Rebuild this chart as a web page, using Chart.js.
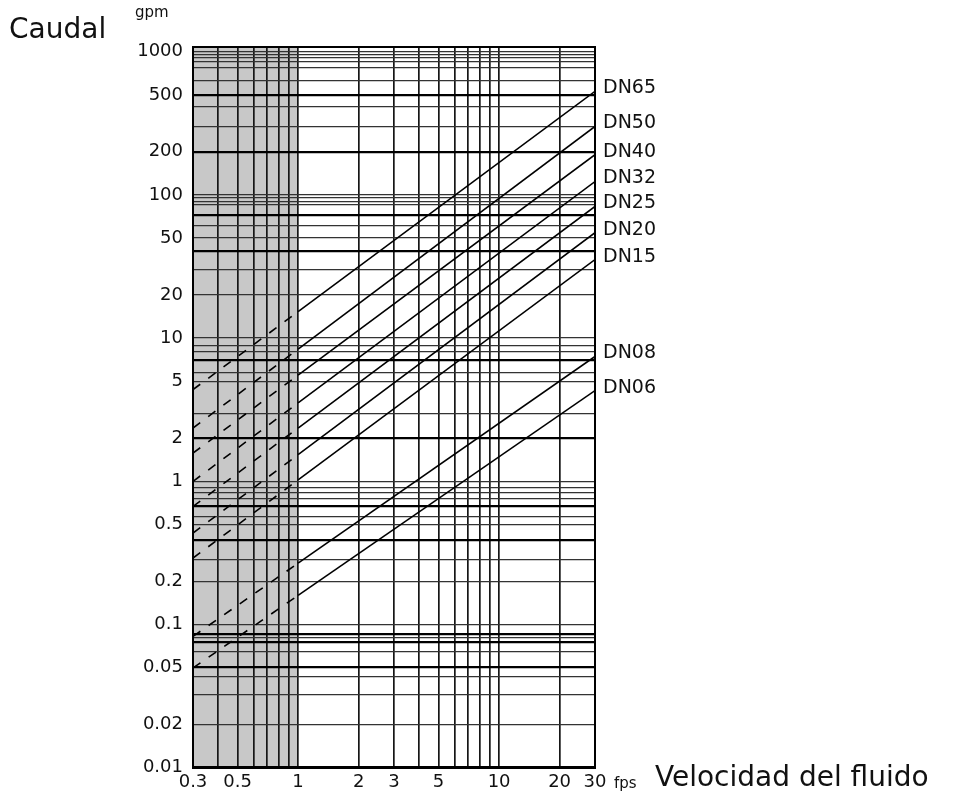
<!DOCTYPE html>
<html>
<head>
<meta charset="utf-8">
<script src="https://cdn.jsdelivr.net/npm/chart.js@4"></script>
<style>
    body { margin: 0; background: #fff; }
    canvas { display: block; }
</style>
</head>
<body>
<canvas id="flowChart" width="954" height="798"></canvas>
<script>
// Caudal vs velocidad del fluido, por diametro nominal

const pipeNames = ['DN65', 'DN50', 'DN40', 'DN32', 'DN25', 'DN20', 'DN15', 'DN08', 'DN06'];
const speedPoints = [0.3, 1, 30];           // fps
const flowAt03 = [4.36, 2.35, 1.57, 0.996, 0.666, 0.434, 0.29, 0.0823, 0.0495];   // gpm at 0.3 fps
const flowAt1 = [15.3, 8.36, 5.51, 3.52, 2.35, 1.53, 1.02, 0.267, 0.159];         // gpm at 1 fps
const flowAt30 = [529, 301, 191, 124, 83.1, 54.5, 35.3, 7.44, 4.29];              // gpm at 30 fps

const xGrid = [0.3, 0.4, 0.5, 0.6, 0.7, 0.8, 0.9, 1, 2, 3, 4, 5, 6, 7, 8, 9, 10, 20, 30];
const xLabels = [0.3, 0.5, 1, 2, 3, 5, 10, 20, 30];
const yLabels = [1000, 500, 200, 100, 50, 20, 10, 5, 2, 1, 0.5, 0.2, 0.1, 0.05, 0.02, 0.01];
const yExtraLines = [954, 905, 848, 770, 631, 411, 300, 95.6, 90.4, 85.4, 72.7, 60.9, 40.8, 30.3,
    8.84, 8.07, 7.06, 5.73, 2.96, 0.9, 0.837, 0.754, 0.674, 0.565, 0.386, 0.283,
    0.0852, 0.081, 0.0747, 0.0644, 0.0428, 0.032];
const yThick = [500, 200, 72.7, 40.8, 7.06, 2, 0.674, 0.386, 0.0852, 0.0747, 0.05, 0.01];

const shadeFrom = 0.3;
const shadeTo = 1;
const dashPattern = [9, 10];

Chart.defaults.font.family = "'DejaVu Sans', sans-serif";
Chart.defaults.color = '#111';

const datasets = pipeNames.map((name, i) => ({
    label: name,
    data: [
        { x: speedPoints[0], y: flowAt03[i] },
        { x: speedPoints[1], y: flowAt1[i] },
        { x: speedPoints[2], y: flowAt30[i] }
    ],
    showLine: true,
    borderColor: '#000',
    borderWidth: 1.6,
    pointRadius: 0,
    segment: {
        borderDash: ctx => ctx.p1.parsed.x <= shadeTo ? dashPattern : undefined
    }
}));

// grey band under the grid
const shadePlugin = {
    id: 'shade',
    beforeDraw(chart) {
        const { ctx, chartArea, scales } = chart;
        const x0 = scales.x.getPixelForValue(shadeFrom);
        const x1 = scales.x.getPixelForValue(shadeTo);
        ctx.save();
        ctx.fillStyle = '#c8c8c8';
        ctx.fillRect(x0, chartArea.top, x1 - x0, chartArea.bottom - chartArea.top);
        ctx.restore();
    }
};

// frame, titles and pipe names
const textPlugin = {
    id: 'texts',
    afterDraw(chart) {
        const { ctx, chartArea } = chart;
        ctx.save();
        ctx.strokeStyle = '#000';
        ctx.lineWidth = 2;
        ctx.strokeRect(chartArea.left, chartArea.top, chartArea.right - chartArea.left, chartArea.bottom - chartArea.top);

        ctx.fillStyle = '#111';
        ctx.textBaseline = 'middle';
        ctx.textAlign = 'left';

        ctx.font = "28px 'DejaVu Sans'";
        ctx.fillText('Caudal', 9, 31);
        ctx.fillText('Velocidad del fluido', 655, 779);

        ctx.font = "15px 'DejaVu Sans'";
        ctx.fillText('gpm', 135, 13);
        ctx.fillText('fps', 614, 784);

        ctx.font = "19px 'DejaVu Sans'";
        chart.data.datasets.forEach((ds, i) => {
            const meta = chart.getDatasetMeta(i);
            const last = meta.data[meta.data.length - 1];
            ctx.fillText(ds.label, chartArea.right + 8, last.y - 3);
        });
        ctx.restore();
    }
};

new Chart(document.getElementById('flowChart'), {
    type: 'scatter',
    data: { datasets },
    options: {
        responsive: false,
        animation: false,
        layout: { padding: { top: 47, right: 359, bottom: 0, left: 0 } },
        plugins: {
            legend: { display: false },
            tooltip: { enabled: false }
        },
        scales: {
            x: {
                type: 'logarithmic',
                min: 0.3,
                max: 30,
                afterBuildTicks: axis => { axis.ticks = xGrid.map(v => ({ value: v })); },
                afterFit: axis => { axis.height = 30; },
                border: { display: false },
                grid: { color: '#161616', lineWidth: 1.7, drawTicks: false },
                ticks: {
                    autoSkip: false,
                    maxRotation: 0,
                    padding: 4,
                    font: { size: 18 },
                    callback: v => xLabels.includes(v) ? String(v) : ''
                }
            },
            y: {
                type: 'logarithmic',
                min: 0.0099,
                max: 1080,
                afterBuildTicks: axis => {
                    axis.ticks = yLabels.concat(yExtraLines).sort((a, b) => b - a).map(v => ({ value: v }));
                },
                afterFit: axis => { axis.width = 193; },
                border: { display: false },
                grid: {
                    drawTicks: false,
                    color: ctx => yThick.includes(ctx.tick.value) ? '#000' : '#333',
                    lineWidth: ctx => yThick.includes(ctx.tick.value) ? 2.2 : 1.2
                },
                ticks: {
                    autoSkip: false,
                    padding: 10,
                    font: { size: 18 },
                    callback: v => yLabels.includes(v) ? String(v) : ''
                }
            }
        }
    },
    plugins: [shadePlugin, textPlugin]
});
</script>
</body>
</html>
